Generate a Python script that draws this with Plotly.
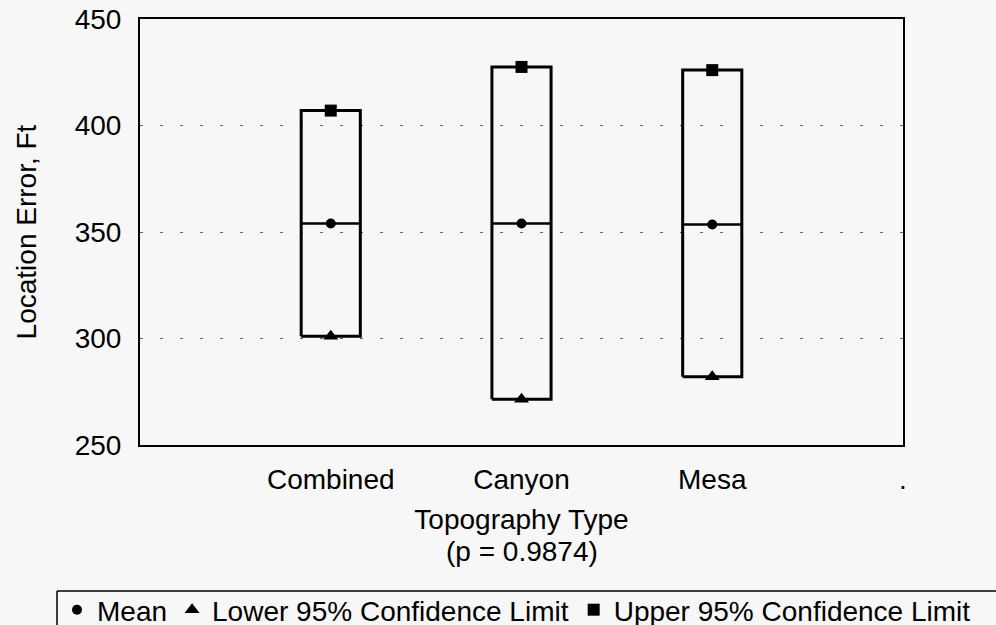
import plotly.graph_objects as go

categories = ["Combined", "Canyon", "Mesa"]
positions = [1, 2, 3]
mean_vals = [354, 354, 353.5]
lower_vals = [301, 271.5, 282]
upper_vals = [407, 427.5, 426]
y_ticks = [250, 300, 350, 400, 450]
extra_tick_label = "."
p_value_text = "(p = 0.9874)"

FONT = "Liberation Sans, Arial, Helvetica, sans-serif"
FS = 28
half_w = 0.155

fig = go.Figure()

# boxes (confidence interval rectangles) and mean lines
for x, lo, hi, m in zip(positions, lower_vals, upper_vals, mean_vals):
    fig.add_trace(go.Scatter(
        x=[x - half_w, x + half_w, x + half_w, x - half_w, x - half_w],
        y=[lo, lo, hi, hi, lo],
        mode="lines", line=dict(color="black", width=3),
        showlegend=False, hoverinfo="skip"))
    fig.add_trace(go.Scatter(
        x=[x - half_w, x + half_w], y=[m, m],
        mode="lines", line=dict(color="black", width=2.5),
        showlegend=False, hoverinfo="skip"))

fig.add_trace(go.Scatter(x=positions, y=mean_vals, mode="markers", name="Mean",
                         marker=dict(symbol="circle", size=10, color="black")))
fig.add_trace(go.Scatter(x=positions, y=lower_vals, mode="markers",
                         name="Lower 95% Confidence Limit",
                         marker=dict(symbol="triangle-up", size=13, color="black")))
fig.add_trace(go.Scatter(x=positions, y=upper_vals, mode="markers",
                         name="Upper 95% Confidence Limit",
                         marker=dict(symbol="square", size=12, color="black")))

W, H = 996, 625
PL, PR, T, B = 140, 903, 19, 180
ph = H - T - B

def py(p):
    return (H - B - p) / ph

def px(p):
    return p / W

fig.update_layout(
    width=W, height=H,
    margin=dict(l=0, r=0, t=T, b=B, autoexpand=False),
    paper_bgcolor="#f7f7f7", plot_bgcolor="#f7f7f7",
    font=dict(family=FONT, size=FS, color="black"),
    showlegend=True,
    legend=dict(orientation="h", x=px(57), xanchor="left", y=py(585), yanchor="top",
                font=dict(family=FONT, size=FS, color="black"),
                bgcolor="rgba(0,0,0,0)", borderwidth=0, itemsizing="trace"),
    xaxis=dict(domain=[px(PL), px(PR)], range=[0, 4], tickvals=positions + [4],
               ticktext=categories + [extra_tick_label],
               showgrid=False, zeroline=False, ticks="",
               showline=True, linecolor="black", linewidth=2, mirror=True,
               tickfont=dict(family=FONT, size=FS), ticklabelstandoff=8,
               title=dict(text="Topography Type", standoff=16,
                          font=dict(family=FONT, size=FS))),
    yaxis=dict(range=[250, 450], tickvals=y_ticks,
               showgrid=True, gridcolor="#666666", gridwidth=1, griddash="3px,17px",
               zeroline=False, ticks="",
               showline=True, linecolor="black", linewidth=2, mirror=True,
               tickfont=dict(family=FONT, size=FS), ticklabelstandoff=11,
               title=dict(text="Location Error, Ft", standoff=30,
                          font=dict(family=FONT, size=FS))),
    annotations=[
        dict(text=p_value_text, xref="paper", yref="paper", x=px((PL + PR) / 2), y=py(551),
             xanchor="center", yanchor="middle", showarrow=False,
             font=dict(family=FONT, size=FS, color="black")),
    ],
    shapes=[
        dict(type="line", xref="paper", yref="paper", x0=px(57), x1=px(1010),
             y0=py(591), y1=py(591), line=dict(color="black", width=1.5)),
        dict(type="line", xref="paper", yref="paper", x0=px(57), x1=px(57),
             y0=py(591), y1=py(640), line=dict(color="black", width=1.5)),
    ],
)

fig.write_html(
    "out.html",
    config={"displayModeBar": False},
    post_script="document.body.style.margin='0';document.body.style.background='#f7f7f7';document.documentElement.style.background='#f7f7f7';",
)
